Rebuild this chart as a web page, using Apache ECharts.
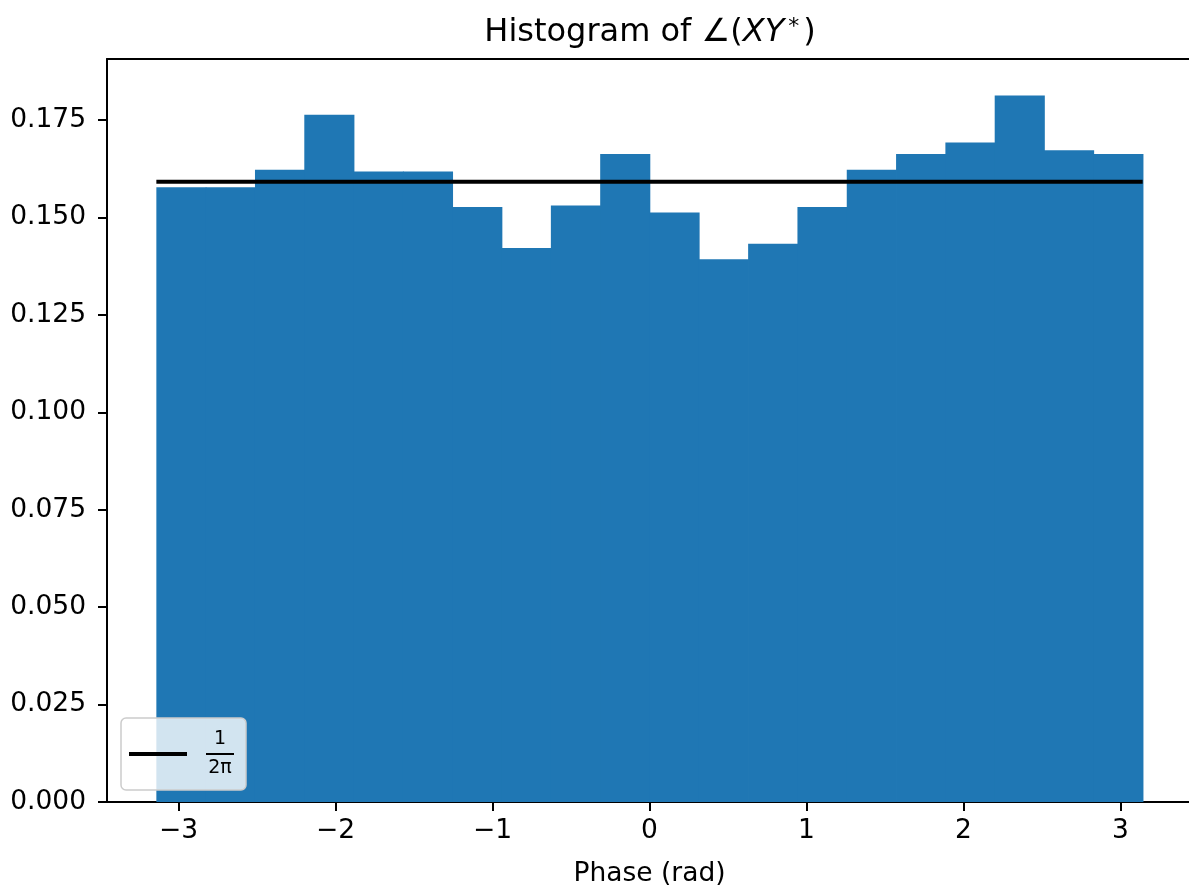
<!DOCTYPE html>
<html>
<head>
<meta charset="utf-8">
<script src="https://cdn.jsdelivr.net/npm/echarts@6/dist/echarts.min.js"></script>
<style>
html,body{margin:0;padding:0;background:#fff;}
#chart{width:1189px;height:886px;}
</style>
</head>
<body>
<div id="chart"></div>
<script>
// ---- data ----
const binCount = 20;
const phaseMin = -Math.PI;
const phaseMax = Math.PI;
const density = [0.1578, 0.1578, 0.1623, 0.1764, 0.1618, 0.1618, 0.1527, 0.1422, 0.1531, 0.1663,
                 0.1513, 0.1393, 0.1433, 0.1527, 0.1623, 0.1663, 0.1693, 0.1813, 0.1673, 0.1663];
const refValue = 0.1592; // 1/(2π)
const xTicks = [-3, -2, -1, 0, 1, 2, 3];
const yTicks = [0, 0.025, 0.05, 0.075, 0.1, 0.125, 0.15, 0.175];
const titleText = '{a|Histogram of ∠(}{i|XY}{s|*}{a|)}';
const xLabel = 'Phase (rad)';
const legendName = '1/(2π)';

// ---- build ----
const binWidth = (phaseMax - phaseMin) / binCount;
const bins = density.map((v, i) => [phaseMin + i * binWidth, phaseMin + (i + 1) * binWidth, v]);
const font = 'DejaVu Sans';
const blue = '#1f77b4';
const xMin = -3.456, xMax = 3.456, yMin = 0, yMax = 0.1907;

const chart = echarts.init(document.getElementById('chart'), null, {renderer: 'canvas'});
chart.setOption({
  animation: false,
  backgroundColor: '#ffffff',
  textStyle: {fontFamily: font},
  title: {
    text: titleText,
    left: 645, top: 11, textAlign: 'center',
    textStyle: {
      fontWeight: 'normal',
      rich: {
        a: {fontFamily: font, fontSize: 32, fontWeight: 'normal', color: '#000'},
        i: {fontFamily: font, fontSize: 32, fontWeight: 'normal', fontStyle: 'italic', color: '#000'},
        s: {fontFamily: font, fontSize: 22, fontWeight: 'normal', color: '#000', verticalAlign: 'top', padding: [0, 4, 12, 4]}
      }
    }
  },
  grid: {
    left: 107, top: 59, width: 1085, height: 743, show: false,
    outerBoundsMode: 'none', containLabel: false
  },
  legend: {
    show: true,
    left: 121, top: 718,
    orient: 'vertical',
    data: [{name: legendName, icon: 'rect'}],
    itemWidth: 58, itemHeight: 4,
    itemStyle: {color: '#000'},
    padding: [12, 12, 12, 8],
    backgroundColor: 'rgba(255,255,255,0.8)',
    borderColor: '#cccccc', borderWidth: 1.5, borderRadius: 5,
    formatter: function () { return '{n|1}\n{b| }\n{d|2π}'; },
    textStyle: {
      padding: [0, 0, 0, 14],
      rich: {
        n: {fontFamily: font, fontSize: 19, color: '#000', align: 'center', width: 28, lineHeight: 26},
        b: {fontSize: 1, width: 28, height: 2, lineHeight: 3, backgroundColor: '#000'},
        d: {fontFamily: font, fontSize: 19, color: '#000', align: 'center', width: 28, lineHeight: 26}
      }
    }
  },
  xAxis: [
    {
      type: 'value',
      min: xMin, max: xMax,
      name: xLabel, nameLocation: 'middle', nameGap: 59,
      nameTextStyle: {fontFamily: font, fontSize: 26.5, color: '#000'},
      axisLine: {show: true, onZero: false, lineStyle: {color: '#000', width: 2}},
      axisTick: {show: true, length: 9, lineStyle: {color: '#000', width: 2}, customValues: xTicks},
      axisLabel: {
        show: true, margin: 16, fontFamily: font, fontSize: 26.5, color: '#000',
        customValues: xTicks,
        formatter: v => (v < 0 ? '\u2212' + Math.abs(v) : String(v))
      },
      splitLine: {show: false}
    },
    {
      type: 'value', position: 'top',
      min: xMin, max: xMax,
      axisLine: {show: true, onZero: false, lineStyle: {color: '#000', width: 2}},
      axisTick: {show: false}, axisLabel: {show: false}, splitLine: {show: false}
    }
  ],
  yAxis: {
    type: 'value',
    min: yMin, max: yMax,
    axisLine: {show: true, onZero: false, lineStyle: {color: '#000', width: 2}},
    axisTick: {show: true, length: 9, lineStyle: {color: '#000', width: 2}, customValues: yTicks},
    axisLabel: {
      show: true, margin: 21, fontFamily: font, fontSize: 26.5, color: '#000',
      customValues: yTicks,
      formatter: v => v.toFixed(3)
    },
    splitLine: {show: false}
  },
  series: [
    {
      type: 'custom',
      name: 'hist',
      data: bins,
      encode: {x: [0, 1], y: 2},
      renderItem: function (params, api) {
        const p0 = api.coord([api.value(0), api.value(2)]);
        const p1 = api.coord([api.value(1), 0]);
        return {
          type: 'rect',
          shape: {x: p0[0], y: p0[1], width: p1[0] - p0[0] + 0.8, height: p1[1] - p0[1]},
          style: {fill: blue}
        };
      },
      z: 1
    },
    {
      type: 'line',
      name: legendName,
      data: [[phaseMin, refValue], [phaseMax, refValue]],
      symbol: 'none',
      lineStyle: {color: '#000', width: 3.8},
      itemStyle: {color: '#000'},
      z: 3
    }
  ]
});
</script>
</body>
</html>
